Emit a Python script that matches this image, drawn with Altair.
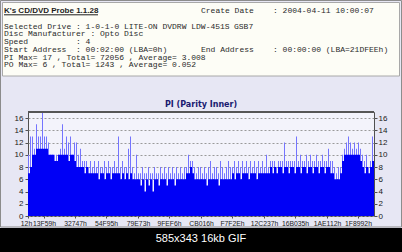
import altair as alt
import pandas as pd

# ---- data ----
pi_peak = [10,13,13,11,15,13,13,17,13,13,
           12,10,10,10,10,10,11,15,11,13,
           12,13,10,12,12,10,11,9,9,9,
           8,9,8,9,8,9,8,8,9,8,
           9,8,8,9,8,13,8,9,8,8,
           11,13,8,7,10,7,7,8,7,7,
           8,7,7,8,7,7,8,7,8,7,
           8,7,8,7,8,7,8,7,8,8,
           10,9,9,8,7,8,8,7,8,7,
           8,9,7,8,8,7,9,8,7,8,
           9,8,8,9,8,9,8,9,8,9,
           8,9,8,9,8,9,8,9,8,10,
           8,9,9,9,8,9,9,9,12,9,
           9,9,9,9,13,9,10,9,9,10,
           9,10,9,9,10,9,9,10,9,9,
           11,9,9,8,7,8,8,10,11,12,
           13,12,11,12,11,12,11,10,9,10,
           8,9,13]
pi_base = [7,8,10,10,11,11,11,11,11,11,
           10,10,10,9,9,10,10,10,10,10,
           9,10,10,9,8,8,8,8,7,8,
           7,7,7,7,7,6,7,7,6,7,
           7,6,7,7,7,7,6,7,6,7,
           6,7,6,6,6,6,5,6,4,6,
           5,6,4,6,6,5,6,6,6,5,
           6,6,6,5,6,6,6,6,6,7,
           7,8,7,6,6,6,6,6,6,5,
           6,6,6,6,6,5,6,6,6,6,
           6,6,7,6,7,7,6,7,7,7,
           6,7,7,7,6,7,7,7,7,7,
           7,8,7,8,7,8,8,7,8,8,
           7,8,8,7,8,8,7,8,8,7,
           8,8,7,8,8,7,8,8,7,8,
           8,7,7,6,6,6,7,9,10,10,
           10,10,10,10,10,10,9,8,7,8,
           7,8,9]
x_labels = ["12h", "13F59h", "32747h", "54F95h", "79E73h", "9FEF6h", "CB016h",
            "F7F2Eh", "12C237h", "16B035h", "1AE112h", "1F8992h"]
# where each x label sits, in the x units used below (2 units per sample)
x_label_pos = [0, 16, 47, 78, 110, 141, 173, 204, 236, 267, 299, 330]
y_ticks = [0, 2, 4, 6, 8, 10, 12, 14, 16]

title_text = "K's CD/DVD Probe 1.1.28"
chart_title = "PI (Parity Inner)"
info_left = [
    "Selected Drive : 1-0-1-0 LITE-ON DVDRW LDW-451S",
    "Disc Manufacturer : Opto Disc",
    "Speed",
    "Start Address",
    "PI Max= 17 , Total= 72056 , Average= 3.008",
    "PO Max= 6 , Total= 1243 , Average= 0.052",
]
speed_val = ": 4"
start_val = ": 00:02:00 (LBA=0h)"
drive_fw = "GSB7"
create_lbl = "Create Date"
create_val = ": 2004-04-11 10:00:07"
end_lbl = "End Address"
end_val = ": 00:00:00 (LBA=21DFEEh)"
caption = "585x343 16kb GIF"

N = len(pi_peak)
df = pd.DataFrame({"x1": [2 * k for k in range(N)],
                   "xh": [2 * k + 1 for k in range(N)],
                   "x2": [2 * k + 2 for k in range(N)],
                   "peak": pi_peak, "base": pi_base})

X0, Y0 = 28, 112          # plot origin in page pixels
W, H = 346, 104

xscale = alt.Scale(domain=[0, 2 * N], nice=False, zero=False)
yscale = alt.Scale(domain=[0, 17], nice=False)
label_expr = ("[" + ",".join("'%s'" % s for s in x_labels) + "][indexof(["
              + ",".join(str(p) for p in x_label_pos) + "], datum.value)]")

axfont = "Liberation Sans"
x_axis = alt.Axis(values=x_label_pos, labelExpr=label_expr, grid=False, domain=False,
                  tickSize=2, tickColor="#505050", labelFont=axfont, labelFontSize=6.8,
                  labelColor="#202020", labelPadding=2, title=None, labelFlush=False,
                  labelOverlap=False, labelBound=False, zindex=2,
                  labelOffset={"condition": {"test": "datum.value === 0", "value": -2},
                               "value": 0})
peak = alt.Chart(df).mark_rect(color="#7474FF").encode(
    x=alt.X("x1:Q", scale=xscale, axis=x_axis),
    x2="xh:Q",
    y=alt.Y("peak:Q", scale=yscale,
            axis=alt.Axis(values=y_ticks, grid=True, gridDash=[2, 2], gridColor="#9A9A9A",
                          domain=False, tickSize=3, tickColor="#505050", labelFont=axfont,
                          labelFontSize=8, labelColor="#202020", labelPadding=2, title=None)),
    y2=alt.datum(0),
)
base = alt.Chart(df).mark_rect(color="#0000F6").encode(
    x=alt.X("x1:Q", scale=xscale, axis=x_axis),
    x2="x2:Q",
    y=alt.Y("base:Q", scale=yscale,
            axis=alt.Axis(values=y_ticks, orient="right", grid=False, domain=False, tickSize=3,
                          tickColor="#505050", labelFont=axfont, labelFontSize=8,
                          labelColor="#202020", labelPadding=1, title=None)),
    y2=alt.datum(0),
)

one = pd.DataFrame({"k": [0]})


def box(x1, y1, x2, y2, fill=None, stroke=None, sw=1):
    kw = {}
    if fill:
        kw.update(fill=fill)
    else:
        kw.update(fillOpacity=0)
    if stroke:
        kw.update(stroke=stroke, strokeWidth=sw)
    return alt.Chart(one).mark_rect(**kw).encode(
        x=alt.value(x1 - X0), x2=alt.value(x2 - X0),
        y=alt.value(y1 - Y0), y2=alt.value(y2 - Y0))


def txt(s, x, y, size=8, font="Liberation Mono", color="#2A2A2A", weight="normal",
        align="left"):
    return alt.Chart(one).mark_text(text=s, font=font, fontSize=size, color=color,
                                    fontWeight=weight, align=align, baseline="middle").encode(
        x=alt.value(x - X0), y=alt.value(y - Y0))


layers = [
    box(2.5, 2.5, 399.5, 76, "#FDFDF6", "#A8A8A8"),
    box(0.5, 0.5, 401.5, 227, None, "#8C8C8C"),
    box(0, 228, 402, 252, "#000000"),
]
rows_y = [26.7, 34.3, 41.9, 49.7, 57.5, 65.3]
texts = [txt(title_text, 4, 10.7, size=8, font="Liberation Sans", weight="bold", color="#1E1E1E"),
         txt(create_lbl, 201, 10.7), txt(create_val, 273, 10.7)]
for s, yy in zip(info_left, rows_y):
    texts.append(txt(s, 4, yy))
texts += [txt(drive_fw, 234, rows_y[0]), txt(speed_val, 76, rows_y[2]),
          txt(start_val, 76, rows_y[3]), txt(end_lbl, 201, rows_y[3]),
          txt(end_val, 273, rows_y[3]),
          txt(chart_title, 201, 105, size=8, font="DejaVu Sans", weight="bold", color="#1A1A70",
              align="center"),
          txt(caption, 201, 239, size=11, font="Liberation Sans", color="#FFFFFF",
              align="center")]
underline = alt.Chart(one).mark_rule(color="#1E1E1E", strokeWidth=1).encode(
    x=alt.value(4 - X0), x2=alt.value(98 - X0), y=alt.value(14.8 - Y0))
topline = alt.Chart(one).mark_rule(color="#555555", strokeWidth=2).encode(
    x=alt.value(0), x2=alt.value(W), y=alt.value(0))

chart = alt.layer(*layers, peak, base, topline, underline, *texts).resolve_axis(
    y="independent").properties(
    width=W, height=H, autosize="none",
    padding={"left": X0, "top": Y0, "right": 402 - X0 - W, "bottom": 252 - Y0 - H},
    background="#E7E7F4",
).configure_view(fill="#F3F3FB", stroke="#505050", strokeWidth=1).configure_axisX(
    labelOverlap=False)

chart.save("out.html", embed_options={"renderer": "svg", "actions": False})
